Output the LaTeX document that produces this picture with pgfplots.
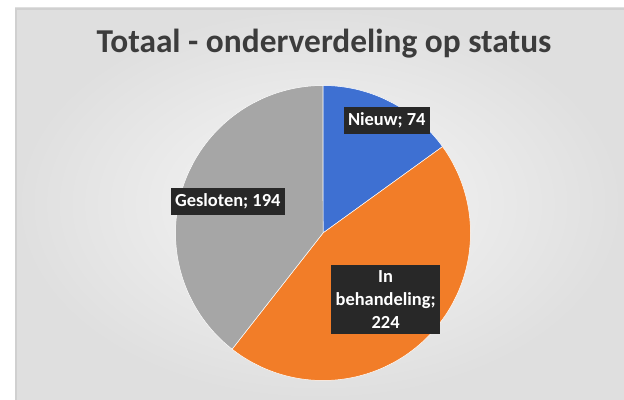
\documentclass[border=0pt]{standalone}
\usepackage{pgfplots}
\pgfplotsset{compat=1.18}
\usepackage{pgfplotstable}
\usepgfplotslibrary{polar}
\usepackage{fontspec}
\setmainfont{Carlito}
\definecolor{cblue}{RGB}{62,112,210}
\definecolor{corange}{RGB}{242,125,40}
\definecolor{cgray}{RGB}{166,166,166}
\definecolor{labbg}{RGB}{40,40,40}
\definecolor{titlegray}{RGB}{60,60,60}
\definecolor{bginner}{RGB}{247,247,247}
\definecolor{bgouter}{RGB}{223,223,223}
\definecolor{edgegray}{RGB}{208,208,208}

\pgfplotstableread{
label value
Nieuw 74
Inbehandeling 224
Gesloten 194
}\datatable

\begin{document}
\begin{tikzpicture}
\path[use as bounding box] (0bp,0bp) rectangle (624bp,400bp);
\fill[white] (0bp,0bp) rectangle (624bp,400bp);
\shade[inner color=bginner, outer color=bgouter] (15bp,0bp) rectangle (624bp,392bp);
\draw[edgegray, line width=2bp] (16bp,0bp) -- (16bp,391bp) -- (624bp,391bp);

\pgfplotstablegetelem{0}{value}\of\datatable \let\vA\pgfplotsretval
\pgfplotstablegetelem{1}{value}\of\datatable \let\vB\pgfplotsretval
\pgfplotstablegetelem{2}{value}\of\datatable \let\vC\pgfplotsretval
\pgfmathsetmacro{\tot}{\vA+\vB+\vC}
\pgfmathsetmacro{\aA}{90}
\pgfmathsetmacro{\aB}{90-\vA/\tot*360}
\pgfmathsetmacro{\aC}{\aB-\vB/\tot*360}
\pgfmathsetmacro{\aD}{\aC-\vC/\tot*360}

\begin{polaraxis}[
  at={(323bp,167bp)}, anchor=center,
  width=295bp, scale only axis, hide axis,
  ymin=0, ymax=1, xmin=0, xmax=360, clip=false]
\addplot[fill=cblue, draw=white, line width=0.5pt, domain=\aB:\aA, samples=60] {1} -- (axis cs:0,0) -- cycle;
\addplot[fill=corange, draw=white, line width=0.5pt, domain=\aC:\aB, samples=120] {1} -- (axis cs:0,0) -- cycle;
\addplot[fill=cgray, draw=white, line width=0.5pt, domain=\aD:\aC, samples=120] {1} -- (axis cs:0,0) -- cycle;
\node[fill=labbg, text=white, font=\bfseries\fontsize{18.5}{21}\selectfont, inner xsep=4.5bp, inner ysep=5.5bp, align=center] at (axis cs:60.5,0.878) {Nieuw; \vA};
\node[fill=labbg, text=white, font=\bfseries\fontsize{18.5}{21}\selectfont, inner xsep=4.5bp, inner ysep=5.5bp, align=center] at (axis cs:161.7,0.68) {Gesloten; \vC};
\node[fill=labbg, text=white, font=\bfseries\fontsize{18.5}{23}\selectfont, inner xsep=4.5bp, inner ysep=5.5bp, align=center] at (axis cs:-46.8,0.62) {In\\behandeling;\\\vB};
\end{polaraxis}

\node[font=\bfseries\fontsize{33.5}{38}\selectfont, text=titlegray, anchor=base] at (324bp,347.5bp) {Totaal - onderverdeling op status};
\end{tikzpicture}
\end{document}
